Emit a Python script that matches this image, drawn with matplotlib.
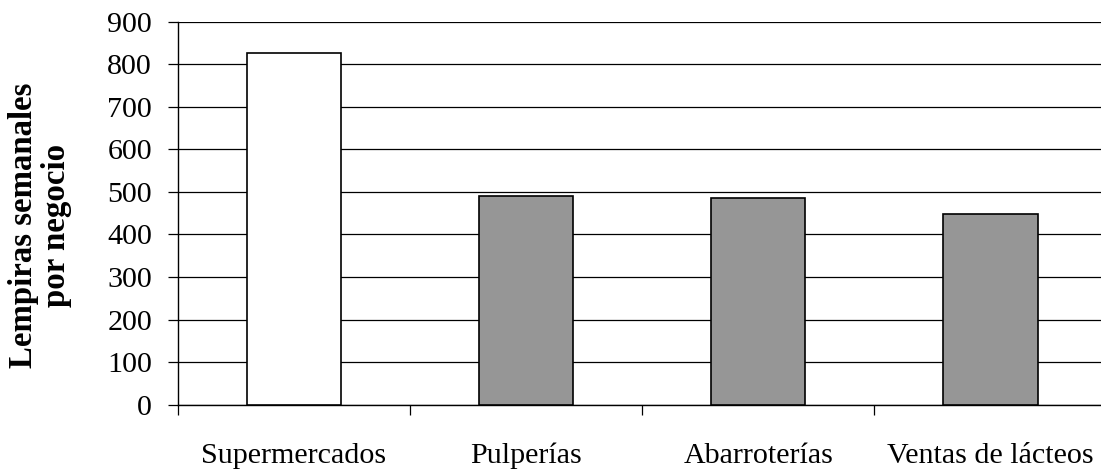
import matplotlib
matplotlib.use("Agg")
import matplotlib.pyplot as plt
import numpy as np

# Ventas semanales promedio por tipo de negocio
categorias = ["Supermercados", "Pulperías", "Abarroterías", "Ventas de lácteos"]
lempiras = [827, 490, 485, 449]
colores = ["#ffffff", "#969696", "#969696", "#969696"]
yticks = [0, 100, 200, 300, 400, 500, 600, 700, 800, 900]

plt.rcParams["font.family"] = ["Liberation Serif", "DejaVu Serif"]

fig = plt.figure(figsize=(11.01, 4.69), dpi=100)
ax = fig.add_axes([0.1614, 0.1371, 0.8438, 0.8166])

x = np.arange(len(categorias))
ax.bar(x, lempiras, width=0.406, color=colores, edgecolor="black",
       linewidth=1.2, zorder=3)

ax.set_xlim(-0.5, len(categorias) - 0.5)
ax.set_ylim(0, 900)
ax.set_yticks(yticks)
ax.set_yticklabels([str(v) for v in yticks], fontsize=21.6)
ax.yaxis.grid(True, color="black", linewidth=0.9, zorder=0)
ax.set_axisbelow(True)

# marcas entre categorías, etiquetas en el centro
ax.set_xticks(np.arange(len(categorias) + 1) - 0.5)
ax.set_xticklabels([])
ax.set_xticks(x, minor=True)
ax.set_xticklabels(categorias, minor=True, fontsize=21.6)
ax.tick_params(axis="x", which="major", direction="out", length=7.5, width=0.9)
ax.tick_params(axis="x", which="minor", length=0, pad=27.5)
ax.tick_params(axis="y", direction="out", length=7.5, width=0.9, pad=11)

for lado in ["top", "right"]:
    ax.spines[lado].set_visible(False)
for lado in ["left", "bottom"]:
    ax.spines[lado].set_linewidth(1.0)

fig.text(40 / 1101, 1 - 225 / 469, "Lempiras semanales\npor negocio",
         rotation=90, ha="center", va="center", multialignment="center",
         fontsize=23.7, fontweight="bold", linespacing=1.1)

fig.savefig("out.png", dpi=100)
